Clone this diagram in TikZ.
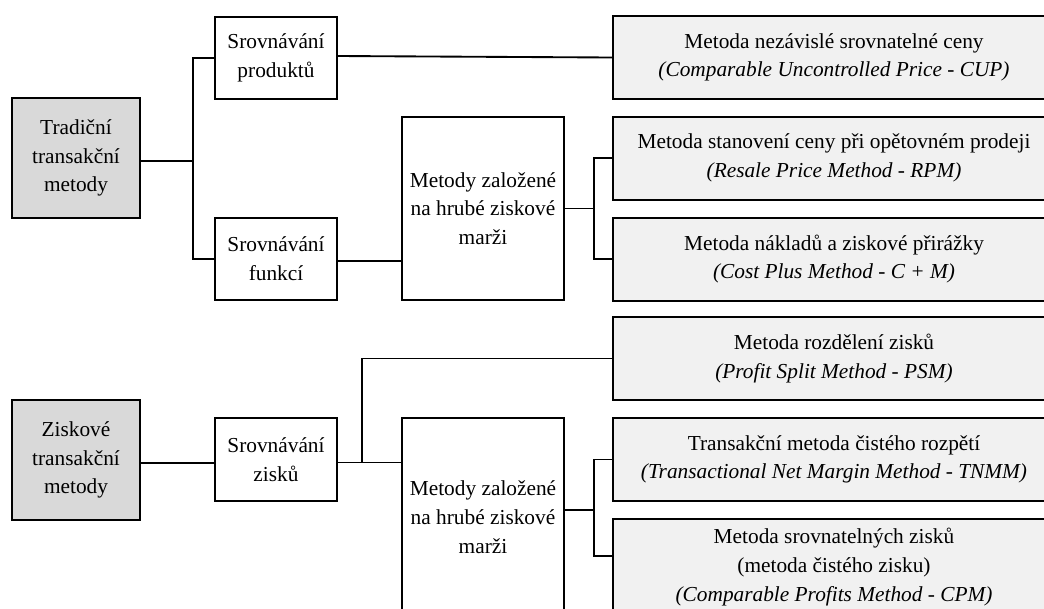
\documentclass[tikz,border=0pt]{standalone}
\usepackage{fontspec}
\setmainfont{Liberation Serif}
\definecolor{rootgray}{RGB}{217,217,217}
\definecolor{methodgray}{RGB}{241,241,241}
\begin{document}
\begin{tikzpicture}[x=0.75pt,y=-0.75pt,
  font=\fontsize{16}{21.5}\selectfont,
  box/.style={draw, line width=1.5pt, rectangle, inner sep=0pt, align=center},
  rootbox/.style={box, fill=rootgray, minimum width=96pt, minimum height=90pt},
  midbox/.style={box, fill=white, minimum width=91.5pt, minimum height=62pt},
  groupbox/.style={box, fill=white, minimum width=121.5pt},
  methodbox/.style={box, fill=methodgray, minimum width=331.5pt, minimum height=62.25pt},
  link/.style={line width=1.4pt}]
\useasboundingbox (0,0) rectangle (1044,608);
\clip (0,0) rectangle (1044,608);

% bracket columns
\coordinate (b1) at (193,0);
\coordinate (b2) at (594,0);
\coordinate (b3) at (362,0);

% traditional transaction methods
\node[rootbox] (trad) at (76,158) {Tradiční\\transakční\\metody};
\node[midbox] (prod) at (276,58) {Srovnávání\\produktů};
\node[midbox] (funk) at (276,259) {Srovnávání\\funkcí};
\node[groupbox, minimum height=137.25pt] (gm1) at (483,208.5) {Metody založené\\na hrubé ziskové\\marži};
\node[methodbox] (cup) at (834,57.5) {Metoda nezávislé srovnatelné ceny\\\textit{(Comparable Uncontrolled Price - CUP)}};
\node[methodbox] (rpm) at (834,158) {Metoda stanovení ceny při opětovném prodeji\\\textit{(Resale Price Method - RPM)}};
\node[methodbox] (cplus) at (834,259) {Metoda nákladů a ziskové přirážky\\\textit{(Cost Plus Method - C + M)}};

% profit-based transaction methods
\node[rootbox] (prof) at (76,460) {Ziskové\\transakční\\metody};
\node[midbox] (szisk) at (276,459.5) {Srovnávání\\zisků};
\node[groupbox, minimum height=148.5pt] (gm2) at (483,517) {Metody založené\\na hrubé ziskové\\marži};
\node[methodbox] (psm) at (834,358.5) {Metoda rozdělení zisků\\\textit{(Profit Split Method - PSM)}};
\node[methodbox] (tnmm) at (834,459.5) {Transakční metoda čistého rozpětí\\\textit{(Transactional Net Margin Method - TNMM)}};
\node[methodbox, minimum height=72pt] (cpm) at (834,567) {Metoda srovnatelných zisků\\(metoda čistého zisku)\\\textit{(Comparable Profits Method - CPM)}};

% connectors, upper tree
\draw[link] ([yshift=-2.25pt]trad.east) -- ([yshift=-2.25pt]trad.east -| b1);
\draw[link] (prod.west) -| (funk.west -| b1) -- (funk.west);
\draw[link] ([yshift=1.5pt]prod.east) -- (cup.west);
\draw[link] ([yshift=-1.5pt]funk.east) -- ([yshift=-1.5pt]funk.east -| gm1.west);
\draw[link] (gm1.east) -- (gm1.east -| b2);
\draw[link] (rpm.west) -| (cplus.west -| b2) -- (cplus.west);

% connectors, lower tree
\draw[link] ([yshift=-2.25pt]prof.east) -- ([yshift=-2.25pt]prof.east -| szisk.west);
\draw[link] ([yshift=-2.25pt]szisk.east) -- ([yshift=-2.25pt]szisk.east -| gm2.west);
\draw[link] (psm.west) -| ([yshift=-2.25pt]szisk.east -| b3);
\coordinate (g2out) at (594,510);
\coordinate (cpmin) at (594,556);
\draw[link] (g2out -| gm2.east) -- (g2out);
\draw[link] (tnmm.west) -| (cpmin) -- (cpmin -| cpm.west);
\end{tikzpicture}
\end{document}
